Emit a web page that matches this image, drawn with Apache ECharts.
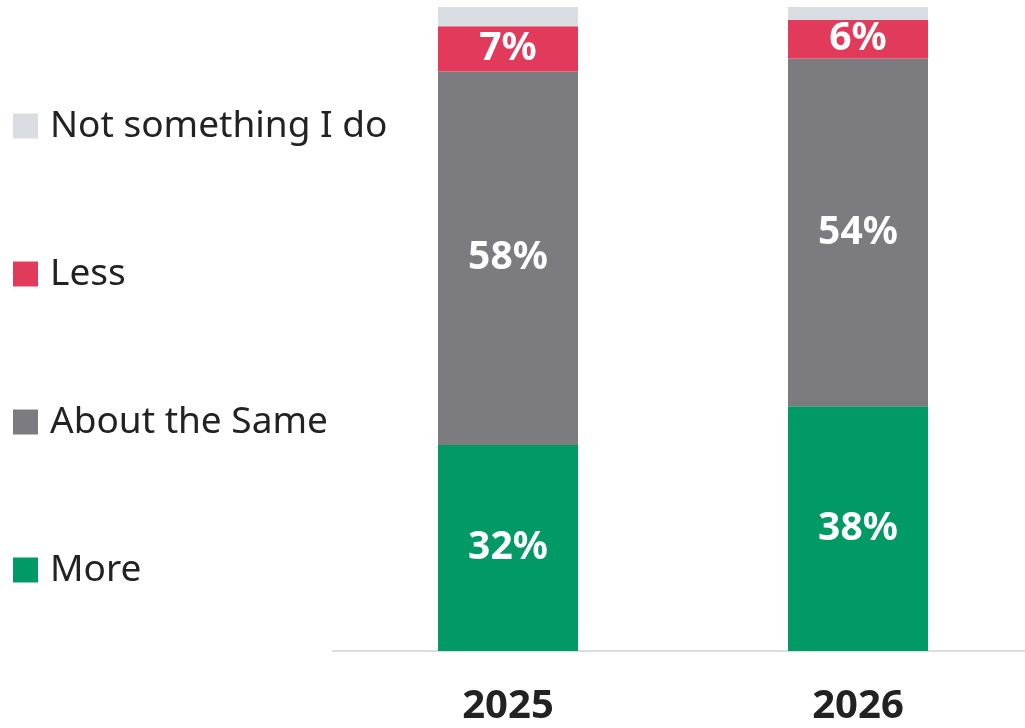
<!DOCTYPE html>
<html>
<head>
<meta charset="utf-8">
<script src="https://cdn.jsdelivr.net/npm/echarts@6/dist/echarts.min.js"></script>
<style>
  html, body { margin: 0; padding: 0; background: #ffffff; }
  #chart { width: 1025px; height: 728px; }
</style>
</head>
<body>
<div id="chart"></div>
<script>
// Survey years on the category axis
const years = ['2025', '2026'];

// Share of respondents (%) per answer, one value per year
const more = [32, 38];
const aboutTheSame = [58, 54];
const less = [7, 6];
const notSomethingIDo = [3, 2];

const seriesNames = ['More', 'About the Same', 'Less', 'Not something I do'];
const legendOrder = ['Not something I do', 'Less', 'About the Same', 'More'];

const colors = {
  'More': '#019a66',
  'About the Same': '#7c7b80',
  'Less': '#e23a5b',
  'Not something I do': '#d9dce1'
};

const values = {
  'More': more,
  'About the Same': aboutTheSame,
  'Less': less,
  'Not something I do': notSomethingIDo
};

const FONT = '"Noto Sans", sans-serif';

const chart = echarts.init(document.getElementById('chart'), null, { renderer: 'canvas' });

chart.setOption({
  animation: false,
  backgroundColor: '#ffffff',
  // plot area runs a little past the right edge of the canvas
  grid: { left: 333, width: 700, top: 7, height: 644, containLabel: false, outerBoundsMode: 'none' },
  legend: {
    orient: 'vertical',
    left: 13,
    top: 106,
    padding: 0,
    data: legendOrder,
    icon: 'rect',
    itemWidth: 25,
    itemHeight: 25,
    itemGap: 108,
    selectedMode: false,
    textStyle: { fontFamily: FONT, fontSize: 37, color: '#222222', lineHeight: 40, padding: [0, 0, 0, 7] }
  },
  xAxis: {
    type: 'category',
    data: years,
    axisLine: { show: true, lineStyle: { color: '#dcdcdc', width: 2 } },
    axisTick: { show: false },
    axisLabel: { margin: 36, fontFamily: FONT, fontSize: 40, fontWeight: 'bold', color: '#222222' }
  },
  yAxis: {
    type: 'value',
    min: 0,
    max: 100,
    show: false
  },
  series: seriesNames.map(name => ({
    name: name,
    type: 'bar',
    stack: 'total',
    barWidth: 140,
    data: values[name],
    itemStyle: { color: colors[name] },
    label: {
      show: name !== 'Not something I do',
      position: 'inside',
      formatter: '{c}%',
      fontFamily: FONT,
      fontSize: 39,
      fontWeight: 'bold',
      color: '#ffffff'
    }
  }))
});
</script>
</body>
</html>
